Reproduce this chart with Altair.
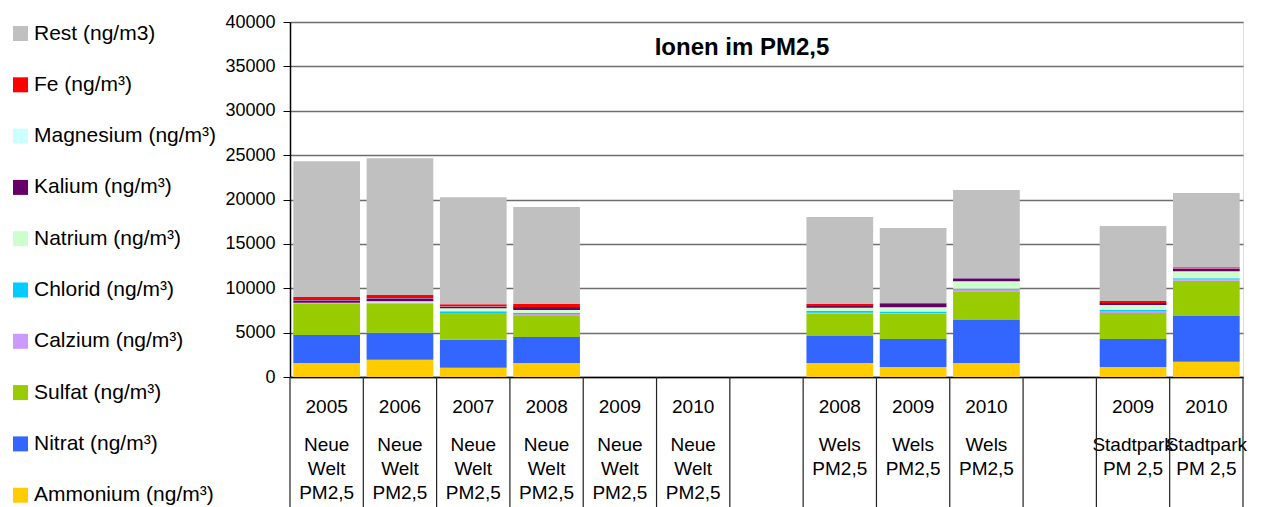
import altair as alt
import pandas as pd

# ---- data ----
slots = list(range(13))
years = ["2005", "2006", "2007", "2008", "2009", "2010", "", "2008", "2009", "2010", "", "2009", "2010"]
sites = ["Neue\nWelt\nPM2,5"] * 6 + [""] + ["Wels\nPM2,5"] * 3 + [""] + ["Stadtpark\nPM 2,5"] * 2

ammonium = [1575, 1950, 1050, 1575, 0, 0, 0, 1575, 1125, 1575, 0, 1125, 1725]
nitrat = [3150, 3040, 3150, 2925, 0, 0, 0, 3037, 3150, 4838, 0, 3150, 5137]
sulfat = [3525, 3260, 2925, 2363, 0, 0, 0, 2513, 2850, 3262, 0, 2925, 3975]
calzium = [110, 150, 0, 225, 0, 0, 0, 110, 75, 150, 0, 225, 150]
chlorid = [0, 0, 280, 110, 0, 0, 0, 190, 190, 110, 0, 150, 150]
natrium = [0, 145, 340, 340, 0, 0, 0, 375, 480, 862, 0, 525, 790]
kalium = [300, 340, 200, 340, 0, 0, 0, 190, 375, 340, 0, 225, 300]
magnesium = [20, 20, 20, 20, 0, 0, 0, 20, 20, 20, 0, 20, 20]
fe = [340, 340, 230, 340, 0, 0, 0, 225, 75, 0, 0, 225, 110]
rest = [15300, 15415, 12050, 10908, 0, 0, 0, 9785, 8442, 9900, 0, 8440, 8363]

# stack order bottom -> top
series_names = ["Ammonium (ng/m³)", "Nitrat (ng/m³)", "Sulfat (ng/m³)", "Calzium (ng/m³)",
                "Chlorid (ng/m³)", "Natrium (ng/m³)", "Kalium (ng/m³)", "Magnesium (ng/m³)",
                "Fe (ng/m³)", "Rest (ng/m3)"]
series_values = [ammonium, nitrat, sulfat, calzium, chlorid, natrium, kalium, magnesium, fe, rest]
series_colors = ["#FFCC00", "#3366FF", "#99CC00", "#CC99FF", "#00CCFF",
                 "#CCFFCC", "#660066", "#CCFFFF", "#FF0000", "#C0C0C0"]
y_ticks = list(range(0, 40001, 5000))
title_text = "Ionen im PM2,5"

FONT = "Liberation Sans"
W, H = 953, 355

rows = []
for k, (name, vals) in enumerate(zip(series_names, series_values)):
    for s, v in zip(slots, vals):
        if v > 0:
            rows.append({"slot": s, "series": name, "value": v, "k": k})
df = pd.DataFrame(rows)

legend_order = series_names[::-1]
legend_colors = series_colors[::-1]

xscale = alt.Scale(domain=slots, paddingInner=0.09, paddingOuter=0.045)

bars = alt.Chart(df).mark_bar(stroke=None).encode(
    x=alt.X("slot:O", scale=xscale,
            axis=alt.Axis(labels=False, ticks=False, title=None, domainColor="black",
                          domainWidth=1.5, grid=False)),
    y=alt.Y("value:Q", stack="zero", scale=alt.Scale(domain=[0, 40000], nice=False),
            axis=alt.Axis(values=y_ticks, format="d", title=None, labelFontSize=18,
                          labelColor="black", labelFont=FONT, tickColor="black", tickSize=7,
                          labelPadding=8, domainColor="black", domainWidth=1.5,
                          gridColor="#6e6e6e", gridWidth=1.5)),
    color=alt.Color("series:N",
                    scale=alt.Scale(domain=legend_order, range=legend_colors),
                    legend=alt.Legend(orient="none", legendX=-280, legendY=1, title=None,
                                      labelFontSize=21, labelFont=FONT, labelColor="black",
                                      symbolType="square", symbolSize=225,
                                      symbolStrokeWidth=0, rowPadding=29.3, labelOffset=3,
                                      labelLimit=400)),
    order=alt.Order("k:Q", sort="ascending"),
)

lab_df = pd.DataFrame({"slot": slots, "year": years, "site": sites})
lab_df = lab_df[lab_df["year"] != ""]

year_text = alt.Chart(lab_df).mark_text(font=FONT, fontSize=19, color="black",
                                        baseline="middle").encode(
    x=alt.X("slot:O", scale=xscale, axis=None),
    y=alt.value(H + 30),
    text="year:N",
)

site_text = alt.Chart(lab_df).mark_text(font=FONT, fontSize=19, color="black",
                                        baseline="top", lineBreak="\n",
                                        lineHeight=24).encode(
    x=alt.X("slot:O", scale=xscale, axis=None),
    y=alt.value(H + 59),
    text="site:N",
)

edges = pd.DataFrame({"edge": list(range(14))})
rules = alt.Chart(edges).mark_rule(color="#222", strokeWidth=1.2).encode(
    x=alt.X("edge:Q", scale=alt.Scale(domain=[0, 13], nice=False, zero=False), axis=None),
    y=alt.value(H),
    y2=alt.value(H + 135),
)

title = alt.Chart(pd.DataFrame({"t": [title_text]})).mark_text(
    font=FONT, fontSize=24, fontWeight="bold", color="black", baseline="middle"
).encode(x=alt.value(452), y=alt.value(26), text="t:N")

chart = alt.layer(bars, year_text, site_text, rules, title).resolve_scale(
    x="independent"
).properties(
    width=W, height=H,
    autosize="none",
    padding={"left": 282, "top": 14, "right": 11, "bottom": 130},
).configure_view(stroke="#888888", strokeWidth=2).configure(font=FONT)

chart.save("out.html", embed_options={"renderer": "svg", "actions": False})
